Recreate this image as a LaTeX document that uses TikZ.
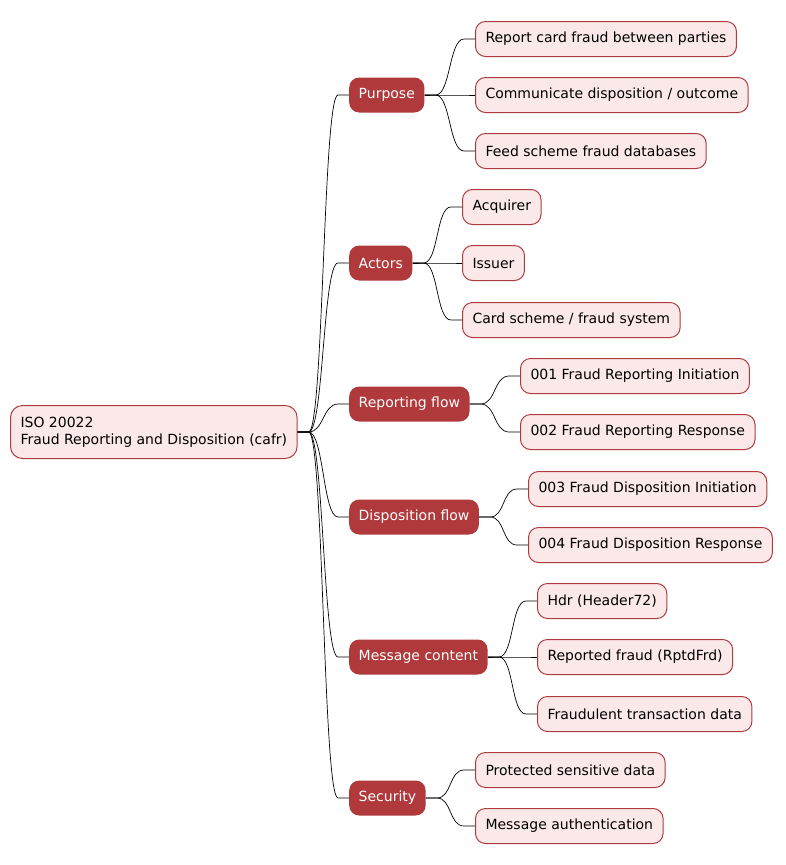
\documentclass[tikz,border=0pt]{standalone}
\usepackage{fontspec}
\setmainfont{DejaVu Sans}
\usetikzlibrary{positioning}
\definecolor{cafrred}{HTML}{B0393B}
\definecolor{cafrpink}{HTML}{FBE9E9}
\definecolor{cafredge}{HTML}{AE3B3D}
\begin{document}
\begin{tikzpicture}[x=1pt,y=-1pt,font=\fontsize{14}{17}\selectfont,
root/.style={draw=cafredge,fill=cafrpink,line width=1pt,rounded corners=12pt,anchor=west,align=left,inner xsep=10pt,minimum height=53pt},
branch/.style={fill=cafrred,text=white,rounded corners=10pt,anchor=west,inner xsep=9.5pt,minimum height=35pt},
leaf/.style={draw=cafredge,fill=cafrpink,line width=1pt,rounded corners=10pt,anchor=west,inner xsep=10pt,minimum height=35pt},
link/.style={black,line width=0.7pt}]
\useasboundingbox(0,0)rectangle(785,865);
\node[root](root)at(10,432){ISO 20022\\Fraud Reporting and Disposition (cafr)};
\node[branch](purpose)at(349,95){Purpose};
\node[branch](actors)at(349,263){Actors};
\node[branch](report)at(349,404){Reporting flow};
\node[branch](dispo)at(349,517){Disposition flow};
\node[branch](content)at(349,657){Message content};
\node[branch](security)at(349,798){Security};
\node[leaf](p1)at(475,39){Report card fraud between parties};
\node[leaf](p2)at(475,95){Communicate disposition / outcome};
\node[leaf](p3)at(475,151){Feed scheme fraud databases};
\node[leaf](a1)at(462,207){Acquirer};
\node[leaf](a2)at(462,263){Issuer};
\node[leaf](a3)at(462,320){Card scheme / fraud system};
\node[leaf](r1)at(520,376){001 Fraud Reporting Initiation};
\node[leaf](r2)at(520,432){002 Fraud Reporting Response};
\node[leaf](d1)at(528,489){003 Fraud Disposition Initiation};
\node[leaf](d2)at(528,545){004 Fraud Disposition Response};
\node[leaf](c1)at(537,601){Hdr (Header72)};
\node[leaf](c2)at(537,657){Reported fraud (RptdFrd)};
\node[leaf](c3)at(537,714){Fraudulent transaction data};
\node[leaf](s1)at(475,770){Protected sensitive data};
\node[leaf](s2)at(475,826){Message authentication};
\foreach \p/\c in {root/purpose,root/actors,root/report,root/dispo,root/content,root/security,
purpose/p1,purpose/p2,purpose/p3,actors/a1,actors/a2,actors/a3,report/r1,report/r2,
dispo/d1,dispo/d2,content/c1,content/c2,content/c3,security/s1,security/s2}
\draw[link](\p.east)--++(11,0)..controls+(15,0)and+(-15,0)..([xshift=-11pt]\c.west)--(\c.west);
\end{tikzpicture}
\end{document}
